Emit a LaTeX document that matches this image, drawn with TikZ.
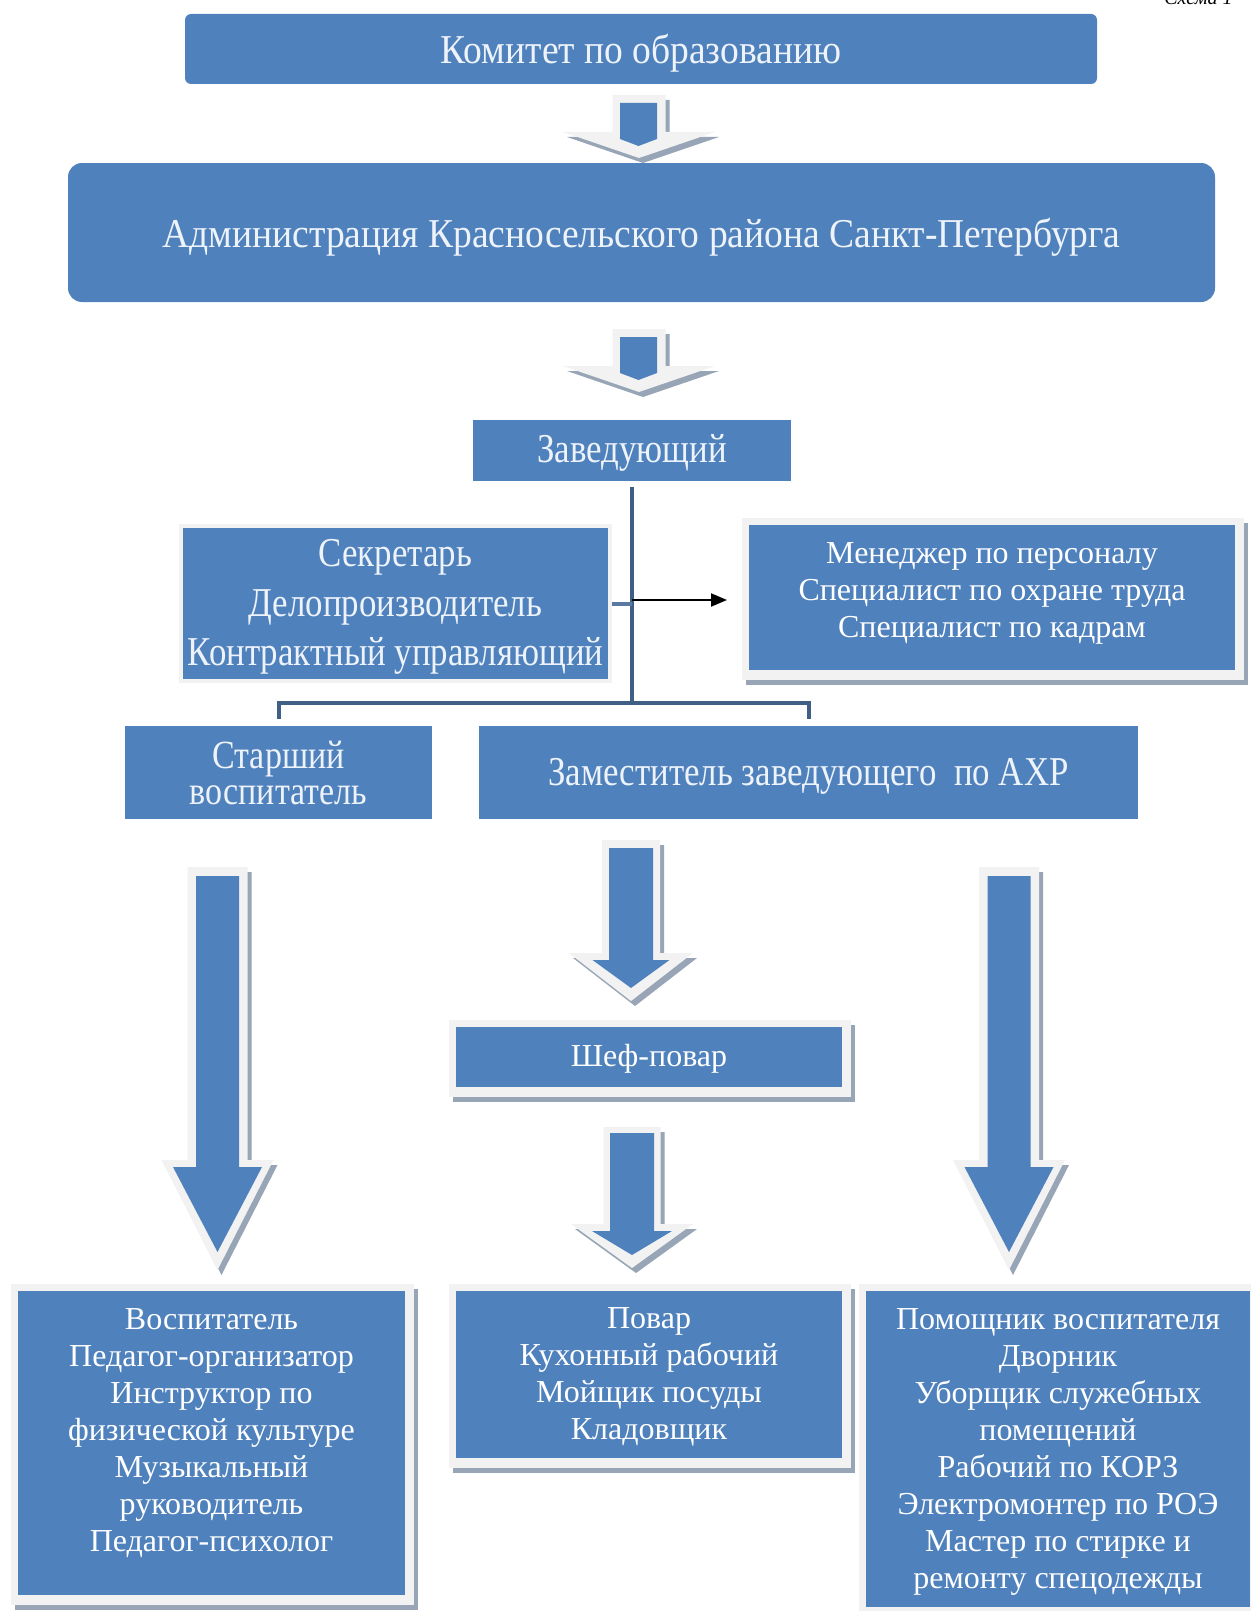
\documentclass[tikz,border=0pt]{standalone}
\usepackage{fontspec}
\setmainfont{Liberation Serif}
\newfontfamily\upfont[FakeStretch=0.85]{Liberation Serif}
\newfontfamily\upfontwide[FakeStretch=0.915]{Liberation Serif}
\usetikzlibrary{arrows.meta,backgrounds,calc}
\definecolor{boxblue}{HTML}{4F81BD}
\definecolor{halogray}{HTML}{F2F2F2}
\definecolor{shadowgray}{HTML}{97A5B6}
\definecolor{linkblue}{HTML}{3F5F87}
\definecolor{linklight}{HTML}{5A7AA3}
\definecolor{uptext}{HTML}{EEF3FA}
\newcommand\upf[1]{\upfont\fontsize{20.5pt}{#1}\selectfont\lineskiplimit=-100pt\relax}
\newcommand\upfw{\upfontwide\fontsize{20.5pt}{24pt}\selectfont\lineskiplimit=-100pt\relax}
\newcommand\lowf{\fontsize{16pt}{18.5pt}\selectfont\lineskiplimit=-100pt\relax}
% style, cx, top, shaft half, head y, head half, tip y
\newcommand\blockarrow[7]{%
  \fill[#1] ({#2-#4},#3) -- ({#2+#4},#3) -- ({#2+#4},#5) -- ({#2+#6},#5) -- (#2,#7) -- ({#2-#6},#5) -- ({#2-#4},#5) -- cycle;}
\newcommand\haloof[1]{%
  \fill[shadowgray] ([shift={(-3,-2)}]#1.north west) rectangle ([shift={(13,15)}]#1.south east);
  \fill[halogray] ([shift={(-7,-7)}]#1.north west) rectangle ([shift={(9,10)}]#1.south east);}
\begin{document}
\begin{tikzpicture}[x=0.5pt,y=-0.5pt,
  upbox/.style={fill=boxblue, text=uptext, inner sep=0pt, outer sep=0pt, anchor=north west, align=center, font=\upf{24pt}},
  lowbox/.style={fill=boxblue, text=white, inner sep=0pt, outer sep=0pt, anchor=north west, align=center, font=\lowf},
  link/.style={draw=linkblue, line width=2pt},
  linkthin/.style={draw=linklight, line width=2pt},
  blackarrow/.style={draw=black, line width=1pt, -{Triangle[length=8pt,width=6.5pt]}}]
\useasboundingbox (0,0) rectangle (1250,1611);

% caption (cut off at top, as in the reference)
\node[anchor=base east, inner sep=0pt, font=\itshape\fontsize{10pt}{12pt}\selectfont] (schema) at (1233,5) {Схема 1};

% boxes
\node[upbox, font=\upfw, text depth=0.4pt, rounded corners=3pt, minimum width=456pt, minimum height=35pt] (kom) at (185,14) {Комитет по образованию};
\node[upbox, font=\upfw, text depth=0pt, rounded corners=7pt, minimum width=573.5pt, minimum height=69.5pt] (adm) at (68,163) {Администрация Красносельского района Санкт-Петербурга};
\node[upbox, text depth=2.4pt, minimum width=159pt, minimum height=30.5pt] (zav) at (473,420) {Заведующий};
\node[upbox, font=\upf{24.75pt}, minimum width=212.5pt, minimum height=75.5pt] (secr) at (183,528) {Секретарь\\Делопроизводитель\\Контрактный управляющий\\[-23.75pt]\mbox{}};
\node[lowbox, minimum width=243pt, minimum height=72.5pt] (mgr) at (749,525) {Менеджер по персоналу\\Специалист по охране труда\\Специалист по кадрам\\[-11pt]\mbox{}};
\node[upbox, font={\upfont\fontsize{20pt}{18pt}\selectfont\lineskiplimit=-100pt\relax}, minimum width=153.5pt, minimum height=46.5pt] (star) at (125,726) {Старший\\воспитатель};
\node[upbox, text depth=0.4pt, minimum width=329.5pt, minimum height=46.5pt] (zam) at (479,726) {Заместитель заведующего\ \ по АХР};
\node[lowbox, text depth=1.5pt, minimum width=193pt, minimum height=30pt] (chef) at (456,1027) {Шеф-повар};
\node[lowbox, minimum width=193.5pt, minimum height=152pt] (vosp) at (18,1291) {Воспитатель\\Педагог-организатор\\Инструктор по\\физической культуре\\Музыкальный\\руководитель\\Педагог-психолог\\[-5.5pt]\mbox{}};
\node[lowbox, minimum width=193pt, minimum height=83.5pt] (povar) at (456,1291) {Повар\\Кухонный рабочий\\Мойщик посуды\\Кладовщик\\[-18pt]\mbox{}};
\node[lowbox, minimum width=192pt, minimum height=158pt] (pom) at (866,1291) {Помощник воспитателя\\Дворник\\Уборщик служебных\\помещений\\Рабочий по КОРЗ\\Электромонтер по РОЭ\\Мастер по стирке и\\ремонту спецодежды\\[-18pt]\mbox{}};

\begin{scope}[on background layer]
  \fill[white] (0,0) rectangle (1250,1611);
  \haloof{mgr}
  \haloof{chef}
  \haloof{vosp}
  \haloof{povar}
  \haloof{pom}
  \fill[halogray] ([shift={(-4,-4)}]secr.north west) rectangle ([shift={(4,4)}]secr.south east);
\end{scope}

% block arrows
\blockarrow{shadowgray,shift={(4,5)}}{639}{95}{26.5}{132}{76}{158}
\blockarrow{halogray}{639}{95}{26.5}{132}{76}{158}
\blockarrow{boxblue}{638.5}{103}{18.5}{139}{18.5}{146}

\blockarrow{shadowgray,shift={(4,5)}}{639}{329}{26.5}{366}{76}{392}
\blockarrow{halogray}{639}{329}{26.5}{366}{76}{392}
\blockarrow{boxblue}{638.5}{337}{18.5}{373}{18.5}{380}

\blockarrow{shadowgray,shift={(4,5)}}{631}{840}{29}{953}{62}{1001}
\blockarrow{halogray}{631}{840}{29}{953}{62}{1001}
\blockarrow{boxblue}{631}{848}{22}{960}{38.5}{988}

\blockarrow{shadowgray,shift={(4,5)}}{632}{1127}{28.5}{1224}{61}{1268}
\blockarrow{halogray}{632}{1127}{28.5}{1224}{61}{1268}
\blockarrow{boxblue}{632}{1133}{22}{1231}{40}{1255}

\blockarrow{shadowgray,shift={(4,5)}}{217.5}{867}{30}{1160}{56}{1270}
\blockarrow{halogray}{217.5}{867}{30}{1160}{56}{1270}
\blockarrow{boxblue}{217.5}{876}{21.5}{1167}{44.5}{1252}

\blockarrow{shadowgray,shift={(4,5)}}{1009}{867}{30}{1160}{56}{1270}
\blockarrow{halogray}{1009}{867}{30}{1160}{56}{1270}
\blockarrow{boxblue}{1009}{876}{21.5}{1167}{44.5}{1252}

% connectors
\coordinate (bus) at (632,703);
\coordinate (tap) at (632,600);
\draw[link, shorten <=3pt] (zav.south) -- (bus);
\draw[link] ($(star.north)+(0,-7)$) -- (star.north |- bus) -- (zam.north |- bus) -- ($(zam.north)+(0,-7)$);
\draw[linkthin, shorten <=2pt] (secr.east) -- (secr.east -| bus);
\draw[blackarrow, shorten >=11pt] (tap) -- (tap -| mgr.west);
\end{tikzpicture}
\end{document}
